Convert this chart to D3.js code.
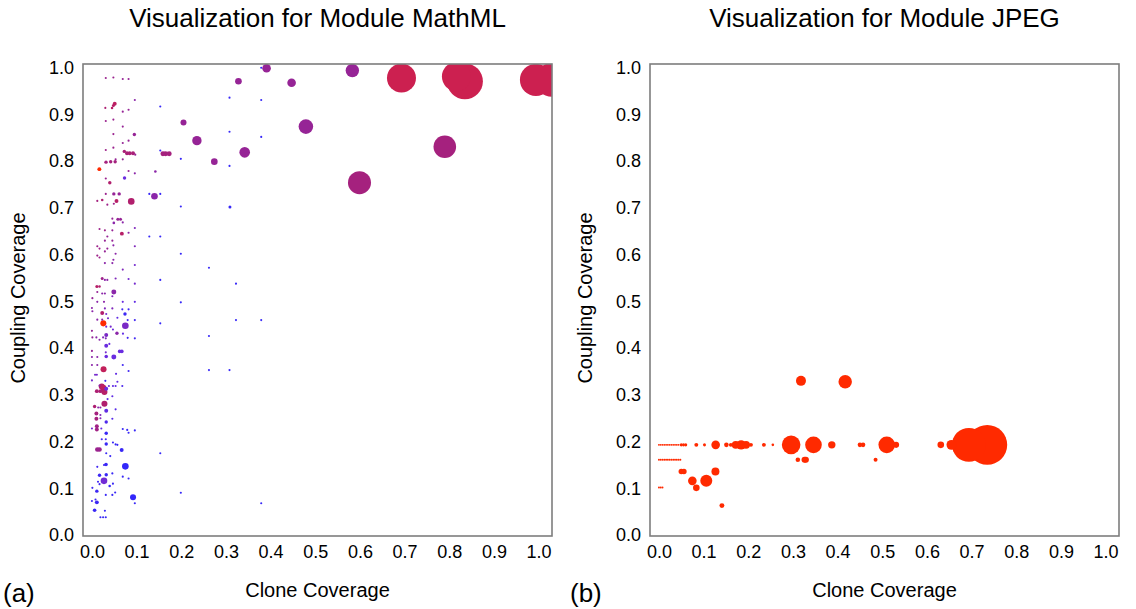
<!DOCTYPE html>
<html>
<head>
<meta charset="utf-8">
<script src="https://cdn.jsdelivr.net/npm/d3@7"></script>
<style>
  body { margin: 0; background: #fff; }
  text { font-family: "Liberation Sans", Arial, sans-serif; fill: #000; }
</style>
</head>
<body>
<svg id="chart" width="1136" height="609"></svg>
<script>
// tick values shared by both axes
let ticks = [0, 0.1, 0.2, 0.3, 0.4, 0.5, 0.6, 0.7, 0.8, 0.9, 1.0];

// MathML module: [clone coverage, coupling coverage, size, hue]
let mathBig = [
  [0.391,0.999,5.7,0.55],[0.328,0.971,3.4,0.55],[0.447,0.968,5.7,0.55],[0.583,0.994,13.9,0.55],
  [0.693,0.978,65,0.85],[0.816,0.981,65,0.85],[0.835,0.971,100,0.85],[0.994,0.974,79,0.85],[1.03,0.974,89,0.85],
  [0.205,0.883,2.8,0.55],[0.235,0.844,6.8,0.55],[0.274,0.799,3.4,0.55],[0.342,0.819,8.7,0.55],[0.479,0.874,16.4,0.55],
  [0.790,0.831,39.4,0.65],[0.599,0.754,41,0.65]
];

// far-right blue dots of MathML
let mathFar = [
  [0.308,0.936,0.35,0.08],[0.379,0.931,0.35,0.08],[0.308,0.863,0.35,0.08],[0.379,0.852,0.35,0.08],
  [0.308,0.790,0.35,0.08],[0.199,0.703,0.35,0.08],[0.309,0.702,0.7,0.08],[0.199,0.602,0.35,0.08],
  [0.379,1.0,0.35,0.08],[0.262,0.572,0.35,0.08],[0.3225,0.538,0.35,0.08],[0.199,0.498,0.35,0.08],
  [0.3225,0.460,0.35,0.08],[0.379,0.460,0.35,0.08],[0.262,0.426,0.35,0.08],[0.262,0.353,0.35,0.08],
  [0.308,0.353,0.35,0.08],[0.199,0.0905,0.35,0.08],[0.379,0.068,0.35,0.08]
];

// dense column of MathML, upper part
let mathUpper = [
  [0.031,0.978,0.35,0.58],[0.048,0.979,0.35,0.58],[0.069,0.976,0.35,0.55],[0.082,0.976,0.35,0.55],
  [0.096,0.931,0.35,0.5],[0.051,0.923,1.2,0.78],[0.048,0.919,0.7,0.75],[0.030,0.914,0.35,0.7],[0.045,0.914,0.5,0.75],
  [0.082,0.910,0.35,0.55],[0.069,0.906,0.35,0.55],[0.153,0.917,0.35,0.08],
  [0.031,0.886,0.35,0.58],[0.048,0.889,0.35,0.58],[0.069,0.874,0.35,0.55],
  [0.095,0.857,0.9,0.55],[0.048,0.858,0.35,0.58],[0.082,0.844,0.35,0.55],[0.069,0.839,0.35,0.55],
  [0.031,0.824,0.35,0.6],[0.048,0.829,0.35,0.58],
  [0.0725,0.821,0.9,0.68],[0.0785,0.817,1.2,0.68],[0.0845,0.817,1.2,0.68],[0.092,0.817,1.2,0.68],[0.097,0.814,0.35,0.55],
  [0.159,0.816,1.9,0.65],[0.165,0.816,1.9,0.65],[0.173,0.816,1.9,0.65],
  [0.153,0.823,0.35,0.08],[0.199,0.805,0.35,0.08],
  [0.0315,0.798,0.9,0.65],[0.042,0.799,0.9,0.65],[0.052,0.799,0.9,0.65],[0.053,0.804,0.35,0.55],[0.069,0.804,0.35,0.55],
  [0.0166,0.783,1.2,1.0],[0.082,0.779,0.35,0.55],[0.096,0.774,0.35,0.5],[0.142,0.778,0.52,0.5],
  [0.073,0.764,0.9,0.35],[0.031,0.763,0.35,0.58],[0.040,0.754,0.9,0.72],
  [0.031,0.730,0.35,0.58],[0.049,0.730,0.9,0.55],[0.061,0.730,0.9,0.55],
  [0.140,0.725,3.4,0.5],[0.1285,0.730,0.35,0.08],[0.153,0.730,0.35,0.08],
  [0.012,0.715,0.35,0.65],[0.023,0.717,0.52,0.7],[0.055,0.715,1.2,0.75],[0.088,0.714,3.4,0.72],
  [0.0345,0.707,0.35,0.6],[0.049,0.709,0.35,0.6],
  [0.0457,0.677,0.35,0.55],[0.058,0.676,0.7,0.55],[0.064,0.676,0.7,0.55],[0.049,0.668,0.52,0.5],[0.069,0.669,0.35,0.5],
  [0.017,0.655,0.35,0.6],[0.029,0.652,0.35,0.6],[0.0457,0.652,0.35,0.55],[0.096,0.657,0.35,0.45],
  [0.067,0.645,1.2,0.75],[0.082,0.647,0.35,0.5],[0.1285,0.639,0.35,0.08],[0.153,0.639,0.35,0.08],[0.0345,0.639,0.35,0.55],
  [0.029,0.630,0.35,0.55],[0.0457,0.630,0.35,0.55],[0.048,0.620,0.35,0.5],[0.096,0.618,0.35,0.45],
  [0.012,0.618,0.35,0.6],[0.017,0.613,0.35,0.6],[0.0345,0.613,0.35,0.55],[0.029,0.607,0.35,0.55],[0.053,0.602,0.35,0.5],
  [0.012,0.598,0.35,0.6],[0.017,0.594,0.35,0.6],[0.048,0.589,0.35,0.5],[0.029,0.582,0.35,0.5],[0.0457,0.582,0.35,0.5],
  [0.096,0.578,0.35,0.4],[0.069,0.568,0.35,0.45],
  [0.023,0.549,0.7,0.6],[0.029,0.546,0.35,0.5],[0.0345,0.546,0.35,0.5],[0.053,0.549,0.35,0.45],[0.082,0.548,0.35,0.4],[0.153,0.546,0.35,0.08],
  [0.096,0.538,0.35,0.4],[0.011,0.532,0.7,0.75],[0.017,0.532,0.52,0.72],
  [0.012,0.520,0.35,0.55],[0.049,0.520,1.9,0.5],[0.023,0.517,0.35,0.5],[0.029,0.517,0.35,0.5],[0.0457,0.511,0.35,0.45],
  [0.001,0.507,0.35,0.55],[0.012,0.499,0.35,0.5],[0.027,0.499,0.35,0.5],[0.069,0.499,0.35,0.35],[0.096,0.499,0.35,0.3]
];

// dense column of MathML, lower part
let mathLower = [
  [0,0.486,0.35,0.5],[0.001,0.479,0.35,0.5],[0.023,0.475,1.2,0.72],[0.029,0.485,0.35,0.45],[0.0457,0.485,0.35,0.45],[0.032,0.473,0.35,0.4],
  [0.068,0.483,0.35,0.15],[0.082,0.483,0.35,0.15],[0.074,0.473,0.9,0.12],
  [0.012,0.461,0.35,0.5],[0.023,0.461,0.35,0.5],[0.036,0.464,0.35,0.4],[0.057,0.465,0.35,0.3],[0.080,0.460,0.35,0.15],[0.096,0.460,0.35,0.15],
  [0.0255,0.453,2.8,1.0],[0.0748,0.448,3.4,0.42],[0.153,0.453,0.35,0.08],
  [0.032,0.446,0.35,0.4],[0.042,0.446,0.35,0.4],[0.047,0.440,0.35,0.35],[0.056,0.432,0.9,0.5],[0.0695,0.431,0.35,0.3],
  [0,0.437,0.35,0.55],[0.001,0.423,0.35,0.55],[0.032,0.428,1.2,0.42],[0.010,0.423,0.35,0.5],[0.017,0.418,0.35,0.5],[0.025,0.423,0.35,0.45],[0.031,0.421,0.35,0.45],
  [0.080,0.422,0.35,0.15],[0.096,0.421,0.35,0.15],
  [0.032,0.405,1.2,0.35],[0.039,0.409,0.35,0.35],[0,0.394,0.35,0.55],[0.062,0.393,1.0,0.35],[0.067,0.393,1.0,0.35],[0.031,0.391,0.35,0.4],
  [0.032,0.382,1.0,0.35],[0.049,0.381,1.9,0.35],[0,0.381,0.35,0.5],[0.012,0.381,0.35,0.5],
  [0.069,0.364,0.35,0.15],[0,0.364,0.35,0.5],[0.012,0.364,0.35,0.5],
  [0.026,0.355,2.8,0.8],[0.082,0.351,0.35,0.15],[0.054,0.345,0.35,0.3],[0.007,0.343,0.35,0.4],[0.011,0.343,0.35,0.4],
  [0,0.331,0.35,0.4],[0.030,0.330,0.35,0.15],[0.057,0.328,0.35,0.3],
  [0.022,0.318,2.8,0.75],[0.0255,0.315,2.8,0.78],[0.017,0.320,0.35,0.5],[0.032,0.313,1.2,0.35],
  [0.038,0.319,0.35,0.35],[0.047,0.319,0.35,0.3],[0.053,0.319,0.35,0.3],[0.068,0.319,0.35,0.2],
  [0.011,0.308,1.2,0.7],[0.019,0.308,1.2,0.7],[0.028,0.306,2.8,0.75],
  [0.0457,0.297,0.35,0.3],[0.035,0.291,0.35,0.3],[0.028,0.281,2.8,0.72],[0.006,0.275,0.9,0.7],[0.014,0.273,0.35,0.5],[0.019,0.273,0.35,0.5],
  [0.032,0.266,1.2,0.3],[0.053,0.269,0.35,0.25],[0.010,0.260,1.2,0.65],[0.010,0.249,1.2,0.65],[0.019,0.257,0.35,0.45],[0.019,0.250,0.35,0.45],
  [0.032,0.242,0.9,0.2],[0.0457,0.249,0.35,0.25],
  [0.011,0.233,1.2,0.62],[0.011,0.226,1.2,0.62],[0,0.228,0.35,0.4],[0.021,0.228,0.35,0.3],
  [0.032,0.218,0.9,0.1],[0.069,0.227,0.35,0.1],[0.079,0.225,0.35,0.1],[0.082,0.219,0.35,0.1],[0.096,0.224,0.35,0.1],
  [0.012,0.183,1.6,0.58],[0.017,0.183,1.6,0.58],[0.032,0.195,0.9,0.1],[0.022,0.205,0.35,0.15],[0.031,0.205,0.35,0.15],
  [0.047,0.198,0.35,0.1],[0.053,0.194,0.35,0.1],[0.057,0.193,0.35,0.1],[0.032,0.175,0.35,0.1],[0.041,0.169,0.35,0.1],
  [0.0666,0.182,1.2,0.1],[0.153,0.175,0.35,0.08],
  [0.0748,0.147,3.4,0.06],[0.0315,0.151,1.0,0.1],[0.012,0.146,0.35,0.15],[0.027,0.150,0.35,0.15],
  [0.017,0.128,0.9,0.12],[0.032,0.129,0.9,0.1],[0.0457,0.132,0.35,0.1],
  [0.027,0.116,3.4,0.38],[0.069,0.125,0.35,0.1],[0.082,0.121,0.35,0.1],[0.0136,0.114,0.35,0.15],[0.017,0.109,0.35,0.15],
  [0.047,0.110,0.35,0.1],[0.0397,0.105,0.52,0.1],[0.001,0.101,0.35,0.15],[0.011,0.094,0.9,0.12],
  [0.052,0.091,0.35,0.1],[0.031,0.086,0.35,0.1],[0.0457,0.086,0.35,0.1],[0.092,0.081,2.8,0.06],[0.096,0.068,0.35,0.1],
  [0,0.073,0.35,0.15],[0.008,0.076,0.35,0.15],[0.011,0.070,1.2,0.12],[0.006,0.053,1.0,0.1],[0.029,0.052,0.35,0.1],
  [0.019,0.038,0.35,0.1],[0.025,0.038,0.35,0.1],[0.031,0.038,0.35,0.1]
];

// JPEG module: [clone coverage, coupling coverage, size]
let jpegPoints = [
  [0.318,0.330,7.7],[0.417,0.328,13.9],
  [0.0,0.193,0.3],[0.004,0.193,0.3],[0.008,0.193,0.3],[0.012,0.193,0.3],[0.016,0.193,0.3],[0.020,0.193,0.3],
  [0.024,0.193,0.3],[0.028,0.193,0.3],[0.032,0.193,0.3],[0.036,0.193,0.3],[0.040,0.193,0.3],[0.044,0.193,0.3],
  [0.05,0.193,0.7],[0.055,0.193,0.7],[0.06,0.193,0.7],
  [0.0837,0.193,1.2],[0.102,0.193,0.7],[0.127,0.193,5.7],[0.151,0.193,1.6],
  [0.161,0.193,1.2],[0.172,0.193,4.9],[0.184,0.193,6.8],[0.195,0.193,4.9],[0.206,0.193,1.2],
  [0.235,0.193,1.2],[0.255,0.193,0.52],[0.296,0.193,26.7],[0.346,0.193,21.3],[0.387,0.193,4.2],
  [0.45,0.193,1.6],[0.457,0.193,1.6],[0.51,0.193,21.3],[0.531,0.193,2.8],
  [0.631,0.193,3.4],[0.655,0.193,7.7],[0.694,0.193,89],[0.735,0.193,123],
  [0.0,0.161,0.3],[0.004,0.161,0.3],[0.008,0.161,0.3],[0.012,0.161,0.3],[0.016,0.161,0.3],[0.020,0.161,0.3],
  [0.024,0.161,0.3],[0.028,0.161,0.3],[0.032,0.161,0.3],[0.036,0.161,0.3],[0.040,0.161,0.3],[0.044,0.161,0.3],[0.048,0.161,0.3],
  [0.311,0.161,1.6],[0.326,0.161,2.8],[0.329,0.161,2.8],[0.485,0.161,1.2],
  [0.05,0.136,2.25],[0.056,0.136,2.25],[0.1265,0.136,4.9],[0.0748,0.116,5.7],[0.0837,0.101,3.4],
  [0.106,0.116,11.1],[0.141,0.063,1.9],[0.0,0.102,0.3],[0.004,0.102,0.3],[0.008,0.102,0.3]
];

let mathPoints = mathBig.concat(mathFar, mathUpper, mathLower);

let panels = [
  {title: 'Visualization for Module MathML', tag: '(a)', left: 83,
   points: mathPoints.map(d => ({x: d[0], y: d[1], w: d[2], c: d[3]}))},
  {title: 'Visualization for Module JPEG', tag: '(b)', left: 650,
   points: jpegPoints.map(d => ({x: d[0], y: d[1], w: d[2], c: 1}))}
];

let [pw, ph, plotTop] = [469, 472, 64];
let svg = d3.select('#chart');

let color = d3.scaleLinear()
  .domain([0, 0.35, 0.55, 0.7, 0.85, 1])
  .range(['#2626ff', '#6a2ce0', '#962496', '#ad1f72', '#cc2050', '#ff2a00']);
let radius = d3.scaleSqrt().domain([0, 100]).range([0, 18]);

panels.forEach((p, i) => {
  let x = d3.scaleLinear().domain([-0.02, 1.03]).range([p.left, p.left + pw]);
  let y = d3.scaleLinear().domain([-0.002, 1.008]).range([plotTop + ph, plotTop]);
  let g = svg.append('g');

  g.append('clipPath').attr('id', 'clip' + i)
    .append('rect').attr('x', p.left).attr('y', plotTop).attr('width', pw).attr('height', ph);

  g.append('g').attr('clip-path', `url(#clip${i})`)
    .selectAll('circle')
    .data(p.points.slice().sort((a, b) => b.w - a.w))
    .join('circle')
    .attr('cx', d => x(Math.max(0, d.x)))
    .attr('cy', d => y(d.y))
    .attr('r', d => radius(d.w))
    .attr('fill', d => color(d.c));

  // frame
  g.append('rect')
    .attr('x', p.left).attr('y', plotTop).attr('width', pw).attr('height', ph)
    .attr('fill', 'none').attr('stroke', '#7d7d7d').attr('stroke-width', 1.6);

  // axes (labels only)
  let ya = g.append('g').attr('transform', `translate(${p.left},0)`)
    .call(d3.axisLeft(y).tickValues(ticks).tickFormat(d3.format('.1f')).tickSize(0).tickPadding(9));
  let xa = g.append('g').attr('transform', `translate(0,${plotTop + ph})`)
    .call(d3.axisBottom(x).tickValues(ticks).tickFormat(d3.format('.1f')).tickSize(0).tickPadding(9));
  [ya, xa].forEach(a => {
    a.select('.domain').remove();
    a.selectAll('text').style('font-size', '18px').attr('fill', '#000')
      .style('font-family', '"Liberation Sans", Arial, sans-serif');
  });

  let cx = p.left + pw / 2;
  g.append('text').attr('x', cx).attr('y', 27).attr('text-anchor', 'middle')
    .style('font-size', '26px').text(p.title);
  g.append('text').attr('x', cx).attr('y', 597).attr('text-anchor', 'middle')
    .style('font-size', '20px').text('Clone Coverage');
  g.append('text')
    .attr('transform', `translate(${p.left - 58},${plotTop + ph / 2 - 2}) rotate(-90)`)
    .attr('text-anchor', 'middle').style('font-size', '20px').text('Coupling Coverage');
  g.append('text').attr('x', p.left - 80).attr('y', 602)
    .style('font-size', '26px').text(p.tag);
});
</script>
</body>
</html>
